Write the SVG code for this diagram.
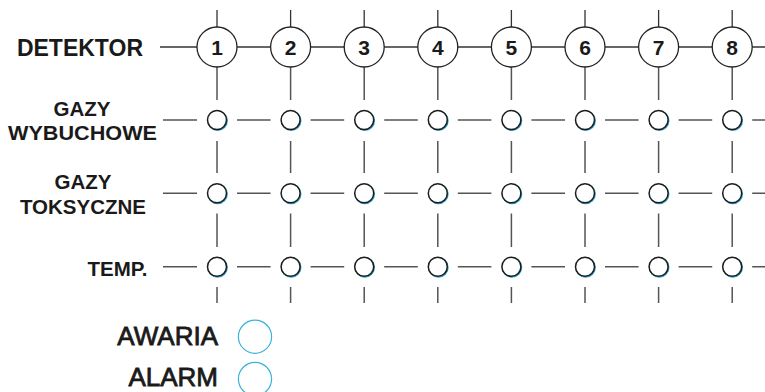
<svg xmlns="http://www.w3.org/2000/svg" xmlns:xlink="http://www.w3.org/1999/xlink" width="765" height="392" viewBox="0 0 765 392">
<style>
.lbl{font-family:"Liberation Sans",Arial,sans-serif;font-weight:bold;fill:#1a1a1a}
.num{font-family:"Liberation Sans",Arial,sans-serif;font-weight:bold;font-size:21px;fill:#1a1a1a;text-anchor:middle}
.leg{font-family:"Liberation Sans",Arial,sans-serif;font-size:26px;fill:#1a1a1a;stroke:#1a1a1a;stroke-width:0.8;text-anchor:end}
.det{fill:#fff;stroke:#222;stroke-width:1.3}
.ln{stroke:#555;stroke-width:1.5;fill:none}
.dl{stroke:#333;stroke-width:1.3;fill:none}
.legc{fill:none;stroke:#3ab2dc;stroke-width:1.2}
</style>
<defs>
<g id="dot">
<circle cx="0.6" cy="0.7" r="9.5" fill="none" stroke="#2aa6cf" stroke-width="1.6"/>
<circle cx="0" cy="0" r="9.5" fill="#fff" stroke="#1c1c1c" stroke-width="1.5"/>
</g>
</defs>
<g id="connectors">
<path class="dl" d="M160 47H765"/>
<path class="ln" d="M163 120H197M237 120H270.6M310.6 120H344.2M384.2 120H417.8M457.8 120H491.4M531.4 120H565M605 120H638.6M678.6 120H712.2M752.2 120H765"/>
<path class="ln" d="M163 193.3H197M237 193.3H270.6M310.6 193.3H344.2M384.2 193.3H417.8M457.8 193.3H491.4M531.4 193.3H565M605 193.3H638.6M678.6 193.3H712.2M752.2 193.3H765"/>
<path class="ln" d="M163 266.7H197M237 266.7H270.6M310.6 266.7H344.2M384.2 266.7H417.8M457.8 266.7H491.4M531.4 266.7H565M605 266.7H638.6M678.6 266.7H712.2M752.2 266.7H765"/>
<path class="dl" d="M217 10V27M290.6 10V27M364.2 10V27M437.8 10V27M511.4 10V27M585 10V27M658.6 10V27M732.2 10V27"/>
<path class="ln" d="M217 67V100M290.6 67V100M364.2 67V100M437.8 67V100M511.4 67V100M585 67V100M658.6 67V100M732.2 67V100"/>
<path class="ln" d="M217 141V173M290.6 141V173M364.2 141V173M437.8 141V173M511.4 141V173M585 141V173M658.6 141V173M732.2 141V173"/>
<path class="ln" d="M217 213.5V247M290.6 213.5V247M364.2 213.5V247M437.8 213.5V247M511.4 213.5V247M585 213.5V247M658.6 213.5V247M732.2 213.5V247"/>
<path class="ln" d="M217 287V303M290.6 287V303M364.2 287V303M437.8 287V303M511.4 287V303M585 287V303M658.6 287V303M732.2 287V303"/>
</g>
<g id="labels">
<text class="lbl" x="143" y="55.7" font-size="23" text-anchor="end">DETEKTOR</text>
<text class="lbl" x="82" y="115.7" font-size="20.5" text-anchor="middle">GAZY</text>
<text class="lbl" x="82.5" y="140" font-size="20.5" text-anchor="middle" textLength="149" lengthAdjust="spacingAndGlyphs">WYBUCHOWE</text>
<text class="lbl" x="83" y="188.7" font-size="20.5" text-anchor="middle">GAZY</text>
<text class="lbl" x="83" y="213.7" font-size="20.5" text-anchor="middle">TOKSYCZNE</text>
<text class="lbl" x="147.5" y="275.7" font-size="20.5" text-anchor="end">TEMP.</text>
</g>
<g id="det1"><circle class="det" cx="217" cy="47" r="20"/><text class="num" x="217" y="55">1</text></g>
<g id="det2"><circle class="det" cx="290.6" cy="47" r="20"/><text class="num" x="290.6" y="55">2</text></g>
<g id="det3"><circle class="det" cx="364.2" cy="47" r="20"/><text class="num" x="364.2" y="55">3</text></g>
<g id="det4"><circle class="det" cx="437.8" cy="47" r="20"/><text class="num" x="437.8" y="55">4</text></g>
<g id="det5"><circle class="det" cx="511.4" cy="47" r="20"/><text class="num" x="511.4" y="55">5</text></g>
<g id="det6"><circle class="det" cx="585" cy="47" r="20"/><text class="num" x="585" y="55">6</text></g>
<g id="det7"><circle class="det" cx="658.6" cy="47" r="20"/><text class="num" x="658.6" y="55">7</text></g>
<g id="det8"><circle class="det" cx="732.2" cy="47" r="20"/><text class="num" x="732.2" y="55">8</text></g>
<g id="gw1"><use xlink:href="#dot" x="217" y="120"/></g>
<g id="gw2"><use xlink:href="#dot" x="290.6" y="120"/></g>
<g id="gw3"><use xlink:href="#dot" x="364.2" y="120"/></g>
<g id="gw4"><use xlink:href="#dot" x="437.8" y="120"/></g>
<g id="gw5"><use xlink:href="#dot" x="511.4" y="120"/></g>
<g id="gw6"><use xlink:href="#dot" x="585" y="120"/></g>
<g id="gw7"><use xlink:href="#dot" x="658.6" y="120"/></g>
<g id="gw8"><use xlink:href="#dot" x="732.2" y="120"/></g>
<g id="gt1"><use xlink:href="#dot" x="217" y="193.3"/></g>
<g id="gt2"><use xlink:href="#dot" x="290.6" y="193.3"/></g>
<g id="gt3"><use xlink:href="#dot" x="364.2" y="193.3"/></g>
<g id="gt4"><use xlink:href="#dot" x="437.8" y="193.3"/></g>
<g id="gt5"><use xlink:href="#dot" x="511.4" y="193.3"/></g>
<g id="gt6"><use xlink:href="#dot" x="585" y="193.3"/></g>
<g id="gt7"><use xlink:href="#dot" x="658.6" y="193.3"/></g>
<g id="gt8"><use xlink:href="#dot" x="732.2" y="193.3"/></g>
<g id="tp1"><use xlink:href="#dot" x="217" y="266.7"/></g>
<g id="tp2"><use xlink:href="#dot" x="290.6" y="266.7"/></g>
<g id="tp3"><use xlink:href="#dot" x="364.2" y="266.7"/></g>
<g id="tp4"><use xlink:href="#dot" x="437.8" y="266.7"/></g>
<g id="tp5"><use xlink:href="#dot" x="511.4" y="266.7"/></g>
<g id="tp6"><use xlink:href="#dot" x="585" y="266.7"/></g>
<g id="tp7"><use xlink:href="#dot" x="658.6" y="266.7"/></g>
<g id="tp8"><use xlink:href="#dot" x="732.2" y="266.7"/></g>
<g id="awaria"><text class="leg" x="218" y="345">AWARIA</text><circle class="legc" cx="255" cy="336.7" r="16.6"/></g>
<g id="alarm"><text class="leg" x="218" y="386">ALARM</text><circle class="legc" cx="255" cy="379" r="16.6"/></g>
</svg>
